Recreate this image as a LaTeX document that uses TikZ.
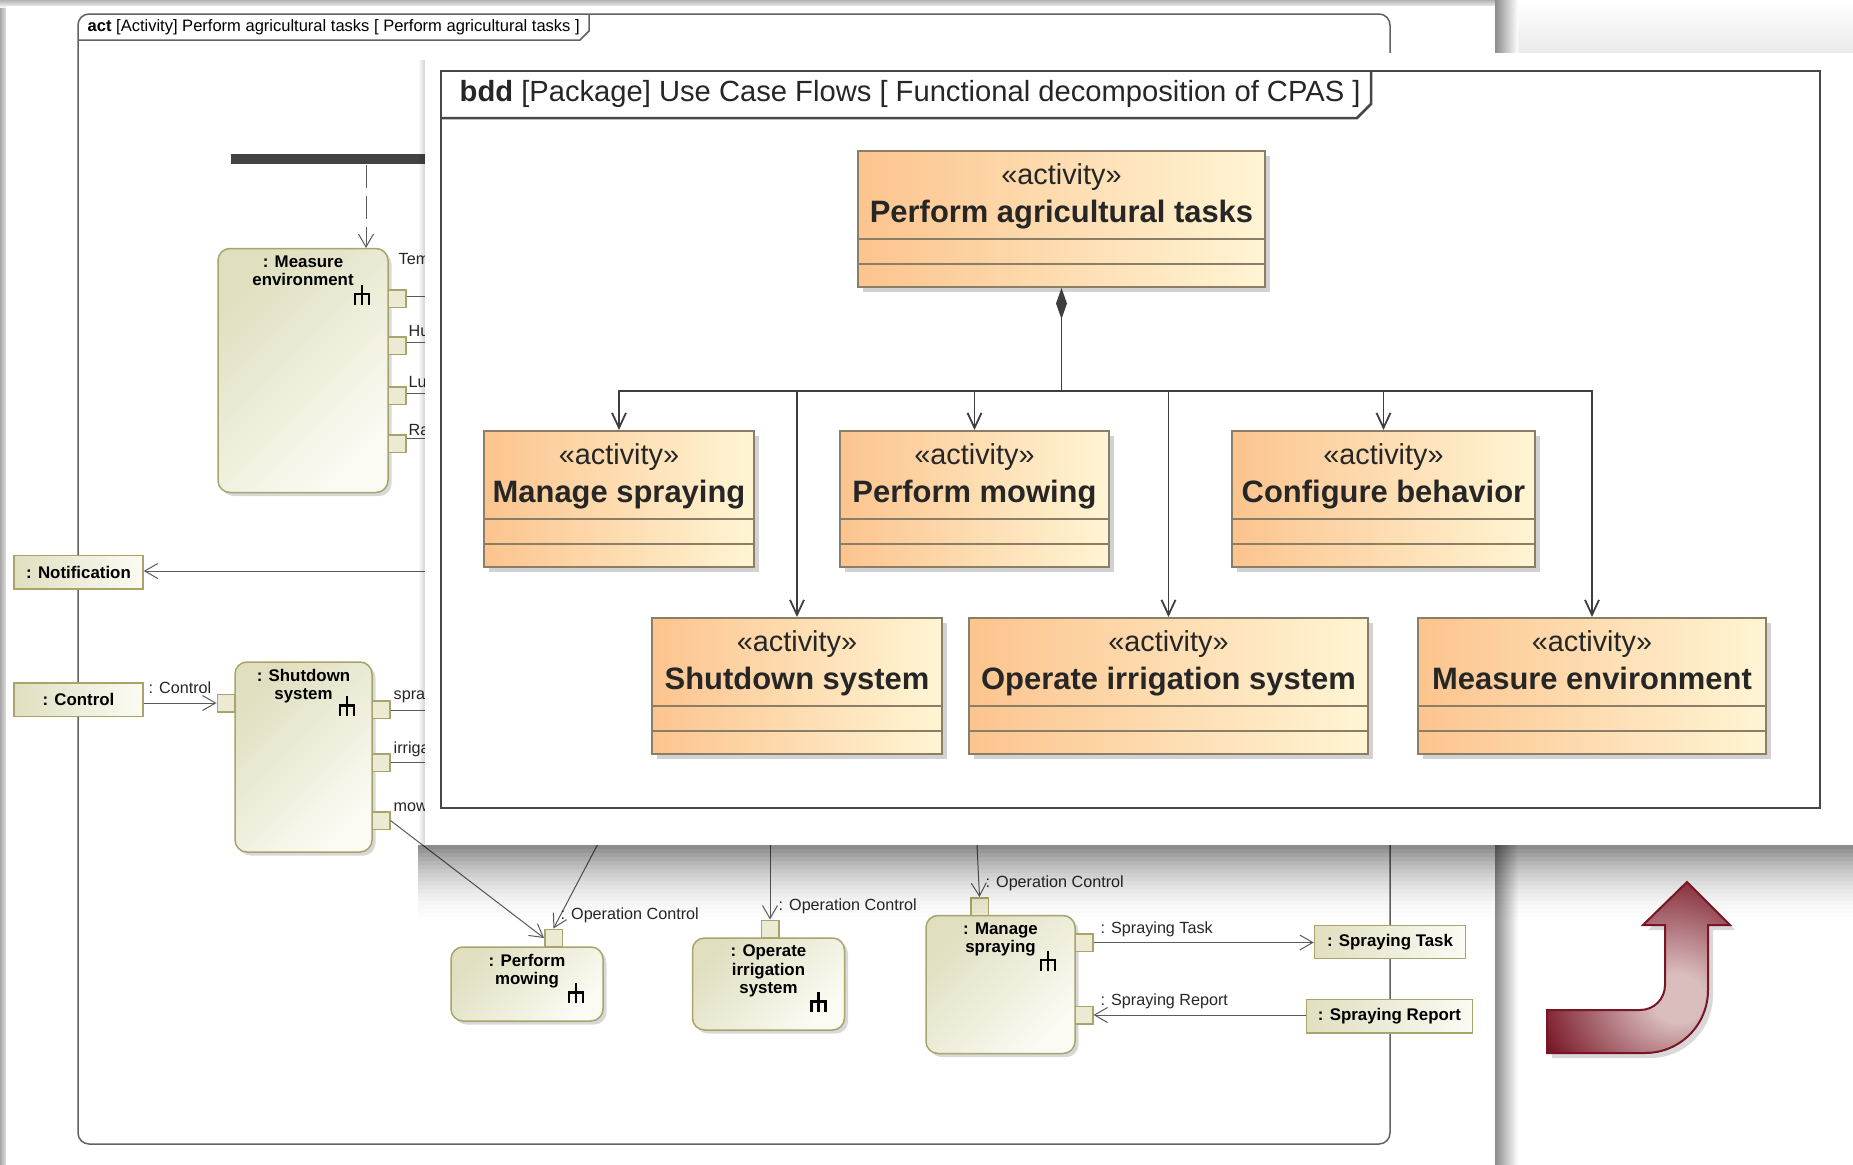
\documentclass[tikz,border=0pt]{standalone}
\usepackage{fontspec}
\setmainfont{Liberation Sans}
\usetikzlibrary{arrows.meta, positioning, calc, shadows}

\definecolor{actolive}{RGB}{168,164,108}
\definecolor{actlight}{RGB}{224,223,192}
\definecolor{actwhite}{RGB}{251,251,244}
\definecolor{pinfill}{RGB}{236,234,210}
\definecolor{wire}{RGB}{90,90,90}
\definecolor{forkgray}{RGB}{66,66,66}
\definecolor{bddorange}{RGB}{252,196,142}
\definecolor{bddcream}{RGB}{255,245,212}
\definecolor{bddedge}{RGB}{138,126,102}
\definecolor{bddwire}{RGB}{62,62,62}
\definecolor{maroon}{RGB}{120,22,38}
\definecolor{maroondark}{RGB}{78,8,18}
\definecolor{maroonlight}{RGB}{218,190,190}

\newcommand{\actfont}{\fontsize{4.6}{5.2}\selectfont}
\newcommand{\actbold}{\fontsize{4.8}{5.2}\selectfont\bfseries}
\newcommand{\bddfont}{\fontsize{8.8}{10.8}\selectfont}
\newcommand{\stereo}[1]{{\fontsize{8.2}{10.8}\selectfont «activity»}\\\textbf{#1}}

% glow on the bent arrow
\pgfdeclareradialshading{bendglow}{\pgfpoint{12bp}{-10bp}}{color(0bp)=(maroonlight); color(7bp)=(maroonlight); color(36bp)=(maroon); color(60bp)=(maroondark); color(75bp)=(maroondark)}

\begin{document}
\begin{tikzpicture}[
  x=0.1mm, y=-0.1mm,
  action/.style={draw=actolive, line width=0.15mm, rounded corners=1.2mm,
    top color=actlight, bottom color=actwhite, shading angle=45, inner sep=0,
    drop shadow={shadow xshift=0.35mm, shadow yshift=-0.35mm, opacity=0.3}},
  pinbox/.style={draw=actolive, line width=0.15mm, fill=pinfill, minimum size=1.75mm, inner sep=0},
  objbox/.style={draw=actolive, line width=0.15mm, left color=actlight, right color=actwhite,
    inner sep=0, font=\actbold},
  boxtitle/.style={align=center, inner sep=0, anchor=north, font=\actbold},
  lbl/.style={font=\actfont, inner sep=0, anchor=west, text=black!85},
  wireline/.style={draw=wire, line width=0.1mm},
  flow/.style={wireline, -{Straight Barb[length=1.3mm, width=1.5mm]}},
  actframe/.style={draw=black!62, line width=0.15mm},
  blk/.style={draw=bddedge, line width=0.2mm, left color=bddorange, right color=bddcream,
    minimum height=13.6mm, inner sep=0,
    drop shadow={shadow xshift=0.5mm, shadow yshift=-0.5mm, opacity=0.35}},
  blktext/.style={align=center, inner sep=0, anchor=north, font=\bddfont, text=black!85},
  bddarr/.style={draw=bddwire, line width=0.18mm, -{Straight Barb[length=1.5mm, width=1.4mm]}},
  rake/.pic={\draw[line width=0.25mm] (0,-9) -- (0,11) (-7,0) -- (7,0) (-7,-1) -- (-7,11) (7,-1) -- (7,11);},
]
\useasboundingbox (0,0) rectangle (1853,1165);

% backdrop with the act sheet and its shadow
\fill[white] (0,0) rectangle (1853,1165);
\fill[left color=black!35, right color=white] (0,0) rectangle (9,1165);
\fill[top color=black!30, bottom color=white] (0,0) rectangle (1500,8);
\fill[top color=white, bottom color=black!8] (1495,0) rectangle (1853,53);
\fill[left color=black!45, right color=white] (1495,0) rectangle (1518,1165);
\fill[white] (6,6) rectangle (1495,1165);

% act frame
\draw[actframe, rounded corners=1.1mm] (78,14) rectangle (1390,1144);
\draw[actframe] (78,40) -- (580,40) -- (589,31) -- (589,14);
\node[anchor=west, inner sep=0, font=\fontsize{4.7}{5}\selectfont] (acttitle) at (87,27)
  {\textbf{act} [Activity] Perform agricultural tasks [ Perform agricultural tasks ]};

% fork bar
\node[fill=forkgray, minimum width=33mm, minimum height=1.05mm, inner sep=0, anchor=north west] (fork) at (230,153) {};

% Measure environment
\node[action, minimum width=17mm, minimum height=24.4mm] (meact) at (303,370.5) {};
\node[boxtitle] (metitle) at ([yshift=-0.7mm]meact.north) {: Measure\\environment};
\pic at ([shift={(-27,46)}]meact.north east) {rake};
\foreach \y [count=\i] in {298.5,345.5,395.5,443.5}
  \node[pinbox] (mep\i) at (397,\y) {};
\coordinate (mein) at (366,248);
\draw[flow, dash pattern=on 2.3mm off 0.8mm] (fork.south -| mein) -- (mein);
\foreach \i/\y in {1/296,2/342,3/393,4/438} {
  \coordinate (meo\i) at (700,\y);
  \draw[wireline] (mep\i.east |- meo\i) -- (meo\i);
}
\node[lbl] (tem) at (398,259) {Tem};
\node[lbl] (hu) at (408,331) {Hu};
\node[lbl] (lu) at (408,382) {Lu};
\node[lbl] (ra) at (408,430) {Ra};

% Notification and Control
\coordinate (nsrc) at (700,571);
\node[objbox, minimum width=12.9mm, minimum height=3.35mm] (notif) at (78.5,572) {: Notification};
\draw[flow] (nsrc) -- (notif.east |- nsrc);
\node[objbox, minimum width=12.9mm, minimum height=3.35mm] (ctrl) at (78.5,699.5) {: Control};

% Shutdown system
\node[action, minimum width=13.7mm, minimum height=19mm] (sdact) at (303.5,757) {};
\node[boxtitle] (sdtitle) at ([yshift=-0.7mm]sdact.north) {: Shutdown\\system};
\pic at ([shift={(-26,44)}]sdact.north east) {rake};
\node[pinbox] (sdin) at (226,703) {};
\draw[flow] (ctrl.east |- sdin) -- (sdin.west);
\node[lbl] (ctrllbl) at (148,688) {: Control};
\foreach \y [count=\i] in {709.5,762.5,820.5}
  \node[pinbox] (sdp\i) at (381,\y) {};
\coordinate (spraout) at (700,710);
\coordinate (irriout) at (700,762);
\draw[wireline] (sdp1.east |- spraout) -- (spraout);
\draw[wireline] (sdp2.east |- irriout) -- (irriout);
\node[lbl] (spra) at (393,697) {spra};
\node[lbl] (irriga) at (393,749) {irriga};
\node[lbl] (mowlbl) at (393,807) {mow};

% Perform mowing
\node[action, minimum width=15.2mm, minimum height=7.4mm] (pmact) at (527,984) {};
\node[boxtitle] (pmtitle) at ([yshift=-0.7mm]pmact.north) {: Perform\\mowing};
\pic at ([shift={(-28,46)}]pmact.north east) {rake};
\node[pinbox] (pmp) at (553.5,938) {};
\coordinate (pmsrc) at (642,760);
\draw[flow] (sdp3.east) -- (pmp.west);
\draw[flow] (pmsrc) -- (pmp.north);
\node[lbl] (pmoc) at (560,915) {: Operation Control};

% Operate irrigation system
\node[action, minimum width=15.2mm, minimum height=9.2mm] (oiact) at (768.5,984) {};
\node[boxtitle] (oititle) at ([yshift=-0.7mm]oiact.north) {: Operate\\irrigation\\system};
\pic at ([shift={(-27,64)}]oiact.north east) {rake};
\node[pinbox] (oip) at (770,929) {};
\coordinate (oisrc) at (770,760);
\draw[flow] (oisrc) -- (oip.north);
\node[lbl] (oioc) at (778,906) {: Operation Control};

% Manage spraying
\node[action, minimum width=14.9mm, minimum height=13.8mm] (msact) at (1000.5,984.5) {};
\node[boxtitle] (mstitle) at ([yshift=-0.7mm]msact.north) {: Manage\\spraying};
\pic at ([shift={(-28,45)}]msact.north east) {rake};
\node[pinbox] (msp) at (979.5,906.5) {};
\coordinate (mssrc) at (973,760);
\draw[flow] (mssrc) -- (msp.north);
\node[lbl] (msoc) at (985,883) {: Operation Control};
\node[pinbox] (msp1) at (1084,942.5) {};
\node[pinbox] (msp2) at (1084,1015) {};
\node[objbox, minimum width=15.1mm, minimum height=3.3mm] (stask) at (1390,942) {: Spraying Task};
\node[objbox, minimum width=16.6mm, minimum height=3.35mm] (sreport) at (1389.5,1016) {: Spraying Report};
\draw[flow] (msp1.east) -- (msp1.east -| stask.west);
\draw[flow] (sreport.west |- msp2) -- (msp2.east);
\node[lbl] (stlbl) at (1100,929) {: Spraying Task};
\node[lbl] (srlbl) at (1100,1001) {: Spraying Report};

% bdd sheet lying on top, with a soft shadow
\foreach \i in {0,...,19} {
  \pgfmathsetmacro{\op}{0.45*(1-\i/20)^2}
  \fill[black, opacity=\op] (418,845+4*\i) rectangle (1853,849+4*\i);
}
\foreach \i in {0,...,5} {
  \pgfmathsetmacro{\op}{0.025*(\i+1)}
  \fill[black, opacity=\op] (419+\i,60) rectangle (420+\i,845);
}
\fill[white] (425,53) rectangle (1853,845);

% bdd frame
\draw[draw=black!72, line width=0.25mm] (441,71) rectangle (1820,808);
\draw[draw=black!72, line width=0.25mm] (441,118) -- (1357,118) -- (1371,104) -- (1371,71);
\node[anchor=west, inner sep=0, font=\fontsize{8.3}{9}\selectfont, text=black!85] (bddtitle) at (459,94)
  {\textbf{bdd} [Package] Use Case Flows [ Functional decomposition of CPAS ]};

% activity blocks
\node[blk, minimum width=40.7mm] (pat) at (1061.5,219) {};
\node[blk, minimum width=27mm] (ms) at (619,499) {};
\node[blk, minimum width=26.9mm] (pm) at (974.5,499) {};
\node[blk, minimum width=30.3mm] (cb) at (1383.5,499) {};
\node[blk, minimum width=29mm] (ss) at (797,686) {};
\node[blk, minimum width=39.9mm] (ois) at (1168.5,686) {};
\node[blk, minimum width=34.8mm] (me) at (1592,686) {};
\foreach \b in {pat,ms,pm,cb,ss,ois,me} {
  \draw[draw=bddedge, line width=0.2mm] ([yshift=2.4mm]\b.south west) -- ([yshift=2.4mm]\b.south east);
  \draw[draw=bddedge, line width=0.2mm] ([yshift=4.9mm]\b.south west) -- ([yshift=4.9mm]\b.south east);
}
\node[blktext] (pat-t) at ([yshift=-1.3mm]pat.north) {\stereo{Perform agricultural tasks}};
\node[blktext] (ms-t) at ([yshift=-1.3mm]ms.north) {\stereo{Manage spraying}};
\node[blktext] (pm-t) at ([yshift=-1.3mm]pm.north) {\stereo{Perform mowing}};
\node[blktext] (cb-t) at ([yshift=-1.3mm]cb.north) {\stereo{Configure behavior}};
\node[blktext] (ss-t) at ([yshift=-1.3mm]ss.north) {\stereo{Shutdown system}};
\node[blktext] (ois-t) at ([yshift=-1.3mm]ois.north) {\stereo{Operate irrigation system}};
\node[blktext] (me-t) at ([yshift=-1.3mm]me.north) {\stereo{Measure environment}};

% composition tree
\coordinate (hub) at (1061.5,391);
\draw[draw=bddwire, line width=0.18mm, {Diamond[length=3.1mm, width=1.1mm]}-] (pat.south) -- (hub);
\foreach \c in {ms,ss,pm,ois,cb,me}
  \draw[bddarr] (hub) -| (\c.north);

% bent arrow
\draw[draw=maroon, line width=0.2mm, shading=bendglow,
  drop shadow={shadow xshift=0.5mm, shadow yshift=-0.5mm, opacity=0.3}]
  (1547,1010) -- (1640,1010) .. controls (1654,1010) and (1665,999) .. (1665,985)
  -- (1665,925) -- (1643,925) -- (1687,882) -- (1730,925) -- (1708,925) -- (1708,990)
  .. controls (1708,1025) and (1680,1053) .. (1645,1053) -- (1547,1053) -- cycle;
\end{tikzpicture}
\end{document}
